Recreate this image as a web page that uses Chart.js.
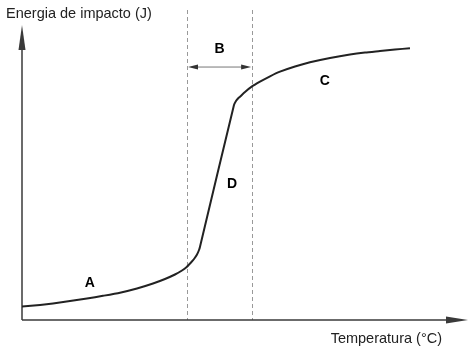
<!DOCTYPE html>
<html>
<head>
<meta charset="utf-8">
<script src="https://cdn.jsdelivr.net/npm/chart.js@4/dist/chart.umd.min.js"></script>
<style>
html,body{margin:0;padding:0;background:#fff;}
#wrap{width:475px;height:351px;position:relative;}
</style>
</head>
<body>
<div id="wrap"><canvas id="c"></canvas></div>
<script>
// Data (arbitrary units: temperature 0-100, energy 0-100)
const temperatura = [0, 4.04, 6.95, 10.76, 14.57, 18.16, 21.97, 25.78, 29.37, 32.06, 34.30, 35.87, 36.99, 37.89, 38.57, 39.24, 39.69, 39.91,
                     47.53, 47.98, 48.43, 48.88, 50.0, 51.50, 53.36, 55.61, 57.85, 61.21, 64.57, 69.06, 73.54, 76.91, 80.27, 83.63, 86.99];
const energia     = [4.35, 4.84, 5.32, 6.13, 6.94, 7.81, 8.81, 10.16, 11.77, 13.23, 14.68, 15.97, 17.19, 18.55, 19.68, 21.13, 22.58, 23.65,
                     69.35, 70.65, 71.45, 72.03, 73.55, 75.26, 76.87, 78.61, 80.10, 81.77, 83.13, 84.52, 85.65, 86.29, 86.77, 87.26, 87.65];
const transitionBounds = [37.0, 51.6];   // dashed lines
const bArrowLevel = 81.6;
const regionLabels = ['A', 'B', 'C', 'D'];
const regionX = [15.2, 44.3, 67.9, 47.1];
const regionY = [11.9, 87.4, 77.1, 43.9];
const yTitle = 'Energia de impacto (J)';
const xTitle = 'Temperatura (°C)';

const points = temperatura.map((t, i) => ({x: t, y: energia[i]}));

function arrowHead(ctx, tipX, tipY, dirX, dirY, len, half) {
  const bx = tipX - dirX * len, by = tipY - dirY * len;
  const px = -dirY, py = dirX;
  ctx.beginPath();
  ctx.moveTo(tipX, tipY);
  ctx.lineTo(bx + px * half, by + py * half);
  ctx.lineTo(bx - px * half, by - py * half);
  ctx.closePath();
  ctx.fill();
}

const decor = {
  id: 'decor',
  beforeDatasetsDraw(chart) {
    const ctx = chart.ctx, a = chart.chartArea;
    const xs = chart.scales.x, ys = chart.scales.y;
    ctx.save();
    // dashed vertical lines
    ctx.strokeStyle = '#999';
    ctx.lineWidth = 1;
    ctx.setLineDash([4, 3]);
    transitionBounds.forEach(v => {
      const px = Math.round(xs.getPixelForValue(v)) + 0.5;
      ctx.beginPath();
      ctx.moveTo(px, a.top);
      ctx.lineTo(px, a.bottom);
      ctx.stroke();
    });
    ctx.setLineDash([]);
    // axes
    ctx.strokeStyle = '#3a3a3a';
    ctx.fillStyle = '#3a3a3a';
    ctx.lineWidth = 1.5;
    const ox = a.left, oy = a.bottom;
    ctx.beginPath();
    ctx.moveTo(ox, oy);
    ctx.lineTo(ox, a.top + 25);
    ctx.stroke();
    arrowHead(ctx, ox, a.top + 15, 0, -1, 25, 3.5);
    ctx.beginPath();
    ctx.moveTo(ox, oy);
    ctx.lineTo(a.right - 10, oy);
    ctx.stroke();
    arrowHead(ctx, a.right, oy, 1, 0, 22, 3.5);
    // B double arrow
    const x1 = xs.getPixelForValue(transitionBounds[0]) + 1;
    const x2 = xs.getPixelForValue(transitionBounds[1]) - 1;
    const yb = ys.getPixelForValue(bArrowLevel);
    ctx.strokeStyle = '#777';
    ctx.lineWidth = 1;
    ctx.beginPath();
    ctx.moveTo(x1 + 5, yb);
    ctx.lineTo(x2 - 5, yb);
    ctx.stroke();
    ctx.fillStyle = '#333';
    arrowHead(ctx, x1, yb, -1, 0, 10, 2.5);
    arrowHead(ctx, x2, yb, 1, 0, 10, 2.5);
    // titles
    ctx.fillStyle = '#222';
    ctx.font = '14.5px "Liberation Sans", Arial, sans-serif';
    ctx.textAlign = 'left';
    ctx.textBaseline = 'alphabetic';
    ctx.fillText(yTitle, 6, 18);
    ctx.textAlign = 'right';
    ctx.fillText(xTitle, 442, 343);
    // region letters
    ctx.fillStyle = '#000';
    ctx.font = 'bold 14px "Liberation Sans", Arial, sans-serif';
    ctx.textAlign = 'center';
    ctx.textBaseline = 'middle';
    regionLabels.forEach((t, i) => {
      ctx.fillText(t, xs.getPixelForValue(regionX[i]), ys.getPixelForValue(regionY[i]));
    });
    ctx.restore();
  }
};

new Chart(document.getElementById('c'), {
  type: 'line',
  data: {
    datasets: [{
      data: points,
      borderColor: '#222',
      borderWidth: 2,
      pointRadius: 0,
      fill: false,
      tension: 0.2
    }]
  },
  options: {
    responsive: true,
    maintainAspectRatio: false,
    animation: false,
    layout: {padding: {left: 22, right: 7, top: 10, bottom: 31}},
    plugins: {legend: {display: false}, tooltip: {enabled: false}},
    scales: {
      x: {type: 'linear', min: 0, max: 100, display: false},
      y: {type: 'linear', min: 0, max: 100, display: false}
    }
  },
  plugins: [decor]
});
</script>
</body>
</html>
